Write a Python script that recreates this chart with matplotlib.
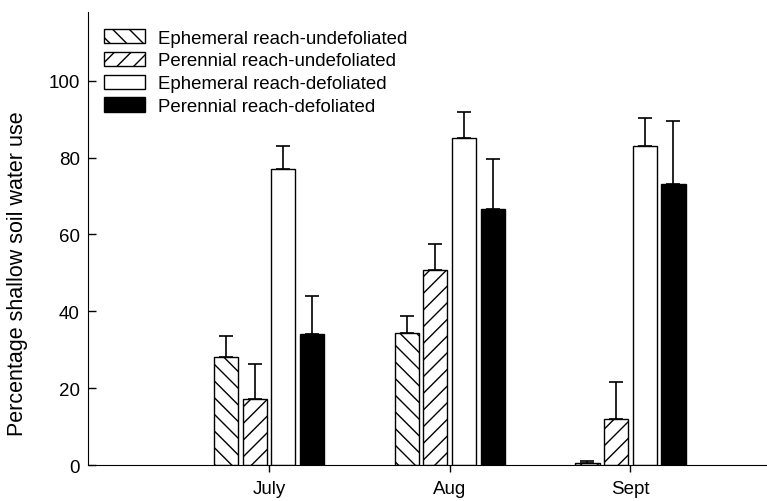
import numpy as np
from matplotlib import pyplot as plt

months = ["July", "Aug", "Sept"]
series = ["Ephemeral reach-undefoliated", "Perennial reach-undefoliated",
          "Ephemeral reach-defoliated", "Perennial reach-defoliated"]

eph_undef = [28.0, 34.3, 0.5]
eph_undef_err = [5.6, 4.4, 0.6]
per_undef = [17.3, 50.7, 12.0]
per_undef_err = [8.9, 6.7, 9.5]
eph_def = [77.0, 85.2, 82.9]
eph_def_err = [6.0, 6.6, 7.5]
per_def = [34.1, 66.5, 73.2]
per_def_err = [9.8, 13.2, 16.2]

plt.rcParams['font.family'] = ['Liberation Sans', 'DejaVu Sans']
plt.rcParams['hatch.linewidth'] = 1.0

fig = plt.figure(figsize=(7.67, 5.02), dpi=100)
ax = fig.add_axes([0.115, 0.0717, 0.8837, 0.9033])

x = np.arange(1, len(months) + 1)
pitch = 0.1586
width = 0.134

styles = [
    dict(facecolor="white", hatch="\\\\"),
    dict(facecolor="white", hatch="//"),
    dict(facecolor="white", hatch=None),
    dict(facecolor="black", hatch=None),
]
vals = [eph_undef, per_undef, eph_def, per_def]
errs = [eph_undef_err, per_undef_err, eph_def_err, per_def_err]

for i in range(4):
    pos = x + (i - 1.5) * pitch
    ax.bar(pos, vals[i], width, edgecolor="black", linewidth=1.0,
           label=series[i], zorder=2, **styles[i])
    # only the upper half of the error bar is drawn
    ax.errorbar(pos, vals[i], yerr=[np.zeros(len(months)), errs[i]],
                fmt="none", ecolor="black", elinewidth=1.2, capsize=5,
                capthick=1.2, zorder=3)

ax.set_xlim(0, 3.75)
ax.set_ylim(0, 118)
ax.set_xticks(x)
ax.set_xticklabels(months)
ax.set_yticks([0, 20, 40, 60, 80, 100])
ax.tick_params(axis="y", direction="in", length=6, width=1, pad=6, labelsize=13.5)
ax.tick_params(axis="x", direction="out", length=5, width=1, pad=6, labelsize=13.5)
ax.spines["top"].set_visible(False)
ax.spines["right"].set_visible(False)
ax.set_ylabel("Percentage shallow soil water use", fontsize=15.5)
ax.yaxis.set_label_coords(-0.089, 50 / 118)

ax.legend(loc="upper left", bbox_to_anchor=(0.012, 0.978), frameon=False,
          fontsize=13.4, handlelength=2.2, handleheight=0.8,
          labelspacing=0.28, handletextpad=0.7, borderaxespad=0)

fig.savefig("out.png", dpi=100)
